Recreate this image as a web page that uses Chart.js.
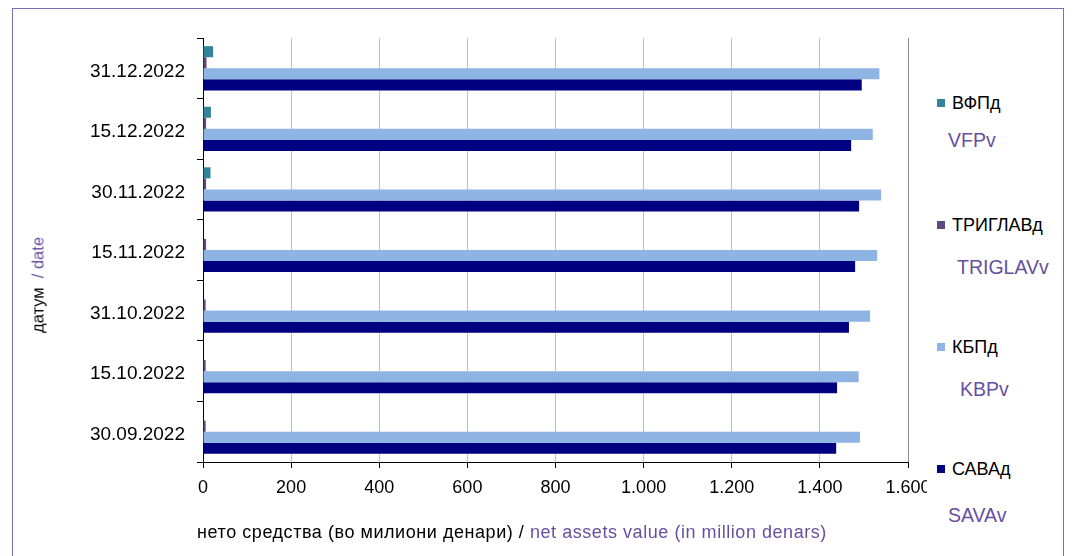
<!DOCTYPE html>
<html>
<head>
<meta charset="utf-8">
<script src="https://cdn.jsdelivr.net/npm/chart.js@4"></script>
<style>
  body { margin: 0; background: #fff; font-family: "Liberation Sans", Arial, sans-serif; }
  #wrap { position: relative; width: 1073px; height: 556px; overflow: hidden; }
  #frame { position: absolute; left: 12px; top: 8px; width: 1050px; height: 560px;
           border-left: 1px solid #7d6bb8; border-top: 1px solid #7d6bb8; border-right: 1px solid #7d6bb8; }
  canvas { position: absolute; left: 0; top: 0; }
  #legendBox { position: absolute; left: 927px; top: 40px; width: 130px; height: 500px; background: #fff; }
  .txt { position: absolute; white-space: nowrap; font-size: 16px; color: #000; }
  .en { color: #6650a0; }
  .leg { position: absolute; white-space: nowrap; font-size: 18px; color: #000; }
  .leg.en { color: #6650a0; font-size: 19.5px; }
  .leg i { display: inline-block; width: 8px; height: 8px; margin-right: 7px; vertical-align: 2px; }
  #ytitle { left: 38px; top: 285px; font-size: 16.5px; transform: translate(-50%, -50%) rotate(-90deg); }
  #xtitle { left: 512px; top: 532px; font-size: 18px; letter-spacing: 0.55px; transform: translate(-50%, -50%); }
</style>
</head>
<body>
<div id="wrap">
  <div id="frame"></div>
  <canvas id="chart" width="1073" height="556"></canvas>
  <div id="legendBox"></div>
  <div class="txt" id="ytitle">датум <span class="en">&nbsp;/ date</span></div>
  <div class="txt" id="xtitle">нето средства (во милиони денари) / <span class="en">net assets value (in million denars)</span></div>
  <div id="legend"></div>
</div>
<script>
// датуми (од горе надолу)
const dates = ["31.12.2022", "15.12.2022", "30.11.2022", "15.11.2022", "31.10.2022", "15.10.2022", "30.09.2022"];

// нето средства во милиони денари
const vfp     = [23, 18, 17, 0, 0, 0, 0];
const triglav = [8, 7, 7, 7, 6, 6, 6];
const kbp     = [1535, 1520, 1539, 1530, 1514, 1488, 1491];
const sava    = [1495, 1471, 1489, 1480, 1466, 1439, 1437];

// имиња на фондовите
const namesMk = ["ВФПд", "ТРИГЛАВд", "КБПд", "САВАд"];
const namesEn = ["VFPv", "TRIGLAVv", "KBPv", "SAVAv"];
const colors  = ["#31849b", "#604a7b", "#8eb4e3", "#000080"];

const xTicks = [0, 200, 400, 600, 800, 1000, 1200, 1400, 1600];

// легенда (рачно, како во оригиналот)
const legendPos = [
  { y: 104, ex: 948, ey: 141 },
  { y: 226, ex: 957, ey: 268 },
  { y: 348, ex: 960, ey: 390 },
  { y: 470, ex: 948, ey: 516 },
];
const legend = document.getElementById("legend");
namesMk.forEach((name, i) => {
  const p = legendPos[i];
  const row = document.createElement("div");
  row.className = "leg";
  row.style.left = "937px";
  row.style.top = (p.y - 11) + "px";
  row.innerHTML = `<i style="background:${colors[i]}"></i>${name}`;
  legend.appendChild(row);
  const en = document.createElement("div");
  en.className = "leg en";
  en.style.left = p.ex + "px";
  en.style.top = (p.ey - 12) + "px";
  en.textContent = namesEn[i];
  legend.appendChild(en);
});

const ctx = document.getElementById("chart").getContext("2d");
const series = [vfp, triglav, kbp, sava];

new Chart(ctx, {
  type: "bar",
  data: {
    labels: dates,
    datasets: series.map((d, i) => ({
      label: namesMk[i],
      data: d,
      backgroundColor: colors[i],
      borderWidth: 0,
      categoryPercentage: 0.73,
      barPercentage: 1.0,
    })),
  },
  options: {
    indexAxis: "y",
    responsive: false,
    animation: false,
    layout: { padding: { left: 0, top: 38, right: 165, bottom: 0 } },
    plugins: { legend: { display: false }, tooltip: { enabled: false } },
    scales: {
      x: {
        min: 0,
        max: 1600,
        afterBuildTicks: (scale) => { scale.ticks = xTicks.map(v => ({ value: v })); },
        afterFit: (scale) => { scale.height = 94; },
        grid: {
          color: (c) => (c.tick && c.tick.value === 1600 ? "#8c8c8c" : "#c0c0c0"),
          tickColor: "#000",
          tickLength: 6,
        },
        border: { color: "#000", width: 1 },
        ticks: {
          color: "#000",
          padding: 9,
          font: { family: "Liberation Sans", size: 18 },
          callback: (v) => v.toLocaleString("de-DE"),
        },
      },
      y: {
        afterFit: (scale) => { scale.width = 203; },
        grid: { drawOnChartArea: false, offset: true, tickColor: "#000", tickLength: 6 },
        border: { color: "#000", width: 1 },
        ticks: { color: "#000", padding: 12, labelOffset: 3, font: { family: "Liberation Sans", size: 19 } },
      },
    },
  },
});
</script>
</body>
</html>
